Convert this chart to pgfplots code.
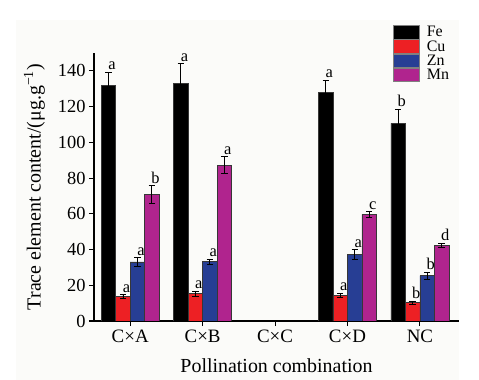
\documentclass[border=0pt]{standalone}
\usepackage{pgfplots}
\pgfplotsset{compat=1.18}
\usepackage{pgfplotstable}
\usepackage{fontspec}
\setmainfont{Liberation Serif}
\definecolor{cuC}{RGB}{237,32,36}
\definecolor{znC}{RGB}{39,62,148}
\definecolor{mnC}{RGB}{176,36,142}
\definecolor{edgeC}{RGB}{55,55,55}
\definecolor{bgC}{RGB}{251,251,249}

\pgfplotstableread{
x y e l
0 132.0 7.3 a
1 133.0 11.0 a
3 127.8 7.0 a
4 110.6 8.0 b
}\dataFe
\pgfplotstableread{
x y e l
0 13.7 1.1 a
1 15.3 1.5 a
3 14.4 1.2 a
4 10.3 0.9 b
}\dataCu
\pgfplotstableread{
x y e l
0 33.1 2.3 a
1 33.2 1.3 a
3 37.2 2.6 a
4 25.4 1.9 b
}\dataZn
\pgfplotstableread{
x y e l
0 70.8 5.0 b
1 87.3 4.7 a
3 59.7 1.6 c
4 42.3 1.2 d
}\dataMn

\pgfplotsset{
  mybar/.style={ybar, bar width=0.2, bar shift=0pt, draw=edgeC, line width=0.7bp,
    fill=#1,
    legend image code/.code={\draw[fill=#1, draw=gray, line width=0.9bp] (0bp,-6.6bp) rectangle (26bp,6.6bp);},
    error bars/.cd, y dir=both, y explicit,
    error bar style={black, line width=0.9bp},
    error mark options={black, rotate=90, mark size=3.2bp, line width=0.9bp},
  },
  mylab/.style={forget plot, draw=none, mark=none, nodes near coords,
    point meta=explicit symbolic,
    nodes near coords style={text=black, anchor=south, inner sep=0pt,
      font=\fontsize{16.5}{16.5}\selectfont, xshift=3.5bp, yshift=2bp}},
}

\begin{document}
\begin{tikzpicture}
\useasboundingbox (0,0) rectangle (479bp,380bp);
\fill[bgC] (16bp,0) rectangle (459bp,360bp);
\begin{axis}[
  at={(94bp,59bp)}, anchor=south west,
  scale only axis, width=365bp, height=268bp,
  xmin=-0.5, xmax=4.54, ymin=0, ymax=150,
  axis x line*=bottom, axis y line*=left,
  axis line style={line width=1.1bp, black},
  xtick={0,1,2,3,4}, xticklabels={C×A,C×B,C×C,C×D,NC},
  ytick={0,20,40,60,80,100,120,140},
  tick align=outside, major tick length=5bp,
  tick style={line width=1.1bp, black},
  /pgf/number format/assume math mode=true,
  yticklabel style={font=\fontsize{18.5}{18.5}\selectfont},
  xticklabel style={font=\fontsize{19}{19}\selectfont},
  xlabel={Pollination combination},
  ylabel={Trace element content/(μg.g\textsuperscript{−1})},
  xlabel style={font=\fontsize{20}{20}\selectfont, at={(axis description cs:0.5,-0.193)}, anchor=base},
  ylabel style={font=\fontsize{20}{20}\selectfont, at={(axis description cs:-0.163,0.5)}, anchor=center},
  legend style={at={(axis description cs:0.819,1.103)}, anchor=north west,
    draw=none, fill=none, inner sep=0pt, outer sep=0pt, row sep=0pt, column sep=7bp,
    font=\fontsize{16}{16}\selectfont,
    nodes={inner sep=0pt}},
  legend cell align=left,
]
\addplot[mybar=black] table[x expr=\thisrow{x}-0.3, y=y, y error=e] {\dataFe};
\addlegendentry{Fe}
\addplot[mybar=cuC] table[x expr=\thisrow{x}-0.1, y=y, y error=e] {\dataCu};
\addlegendentry{Cu}
\addplot[mybar=znC] table[x expr=\thisrow{x}+0.1, y=y, y error=e] {\dataZn};
\addlegendentry{Zn}
\addplot[mybar=mnC] table[x expr=\thisrow{x}+0.3, y=y, y error=e] {\dataMn};
\addlegendentry{Mn}

\addplot[mylab] table[x expr=\thisrow{x}-0.3, y expr=\thisrow{y}+\thisrow{e}, meta=l] {\dataFe};
\addplot[mylab] table[x expr=\thisrow{x}-0.1, y expr=\thisrow{y}+\thisrow{e}, meta=l] {\dataCu};
\addplot[mylab] table[x expr=\thisrow{x}+0.1, y expr=\thisrow{y}+\thisrow{e}, meta=l] {\dataZn};
\addplot[mylab] table[x expr=\thisrow{x}+0.3, y expr=\thisrow{y}+\thisrow{e}, meta=l] {\dataMn};
\end{axis}
\end{tikzpicture}
\end{document}
